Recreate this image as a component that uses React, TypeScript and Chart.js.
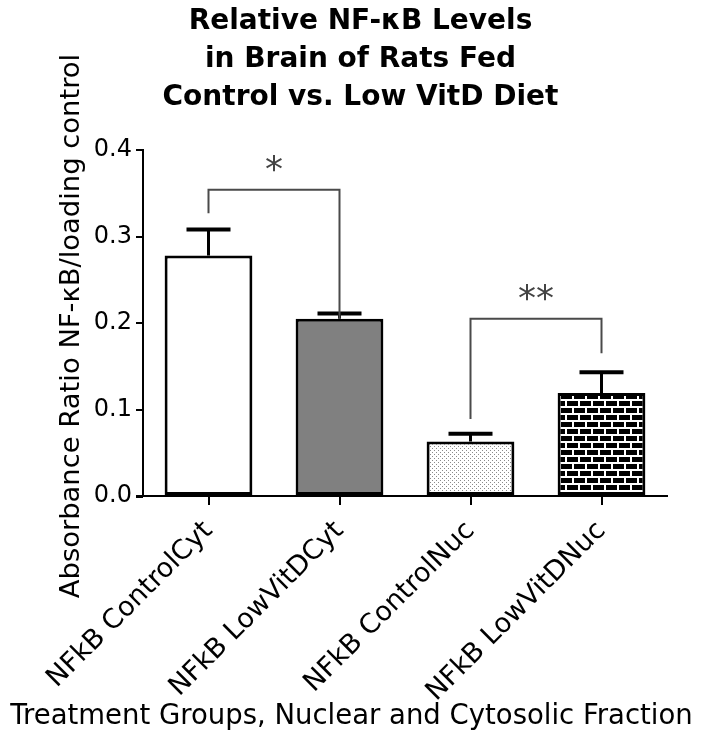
import React, { useEffect, useRef } from 'react';
import { Chart, registerables } from 'chart.js';

Chart.register(...registerables);

const titleLines = ['Relative NF-κB Levels', 'in Brain of Rats Fed', 'Control vs. Low VitD Diet'];
const yAxisTitle = 'Absorbance Ratio NF-κB/loading control';
const xAxisTitle = 'Treatment Groups, Nuclear and Cytosolic Fraction';
const categories = ['NFkB ControlCyt', 'NFkB LowVitDCyt', 'NFkB ControlNuc', 'NFkB LowVitDNuc'];
const means = [0.278, 0.205, 0.063, 0.119];
const sems = [0.030, 0.006, 0.009, 0.024];
const yMin = 0;
const yMax = 0.4;
const yStep = 0.1;
const bracketFrom = [0, 2];
const bracketTo = [1, 3];
const bracketLevels = [0.354, 0.205];
const bracketLeftEnds = [0.327, 0.089];
const bracketRightEnds = [0.205, 0.165];
const bracketLabels = ['*', '**'];

const FONT = '"DejaVu Sans", "Liberation Sans", Arial, sans-serif';

function makeDots(): CanvasPattern | string {
  const c = document.createElement('canvas');
  c.width = 4;
  c.height = 4;
  const g = c.getContext('2d');
  if (!g) return '#ddd';
  g.fillStyle = '#ffffff';
  g.fillRect(0, 0, 4, 4);
  g.fillStyle = '#8a8a8a';
  g.fillRect(0, 0, 1, 1);
  g.fillRect(2, 2, 1, 1);
  return g.createPattern(c, 'repeat') || '#ddd';
}

function makeBricks(): CanvasPattern | string {
  const c = document.createElement('canvas');
  c.width = 13;
  c.height = 14;
  const g = c.getContext('2d');
  if (!g) return '#333';
  g.fillStyle = '#000000';
  g.fillRect(0, 0, 13, 14);
  g.fillStyle = '#ffffff';
  g.fillRect(0, 0, 13, 2);
  g.fillRect(0, 7, 13, 2);
  g.fillRect(0, 2, 2, 5);
  g.fillRect(6, 9, 2, 5);
  return g.createPattern(c, 'repeat') || '#333';
}

const errorBarPlugin = {
  id: 'errorBars',
  afterDatasetsDraw(chart: any) {
    const ctx = chart.ctx;
    const y = chart.scales.y;
    const meta = chart.getDatasetMeta(0);
    ctx.save();
    ctx.strokeStyle = '#000';
    meta.data.forEach((bar: any, i: number) => {
      const top = y.getPixelForValue(means[i] + sems[i]);
      const base = y.getPixelForValue(means[i]);
      ctx.lineWidth = 3;
      ctx.beginPath();
      ctx.moveTo(bar.x, base);
      ctx.lineTo(bar.x, top);
      ctx.stroke();
      ctx.lineWidth = 4;
      ctx.beginPath();
      ctx.moveTo(bar.x - 22, top);
      ctx.lineTo(bar.x + 22, top);
      ctx.stroke();
    });
    ctx.restore();
  },
};

const bracketPlugin = {
  id: 'brackets',
  afterDraw(chart: any) {
    const ctx = chart.ctx;
    const y = chart.scales.y;
    const x = chart.scales.x;
    const area = chart.chartArea;
    ctx.save();
    ctx.strokeStyle = '#000';
    ctx.lineWidth = 2;
    ctx.beginPath();
    ctx.moveTo(area.left - 7, area.bottom + 1);
    ctx.lineTo(area.left, area.bottom + 1);
    ctx.stroke();
    ctx.strokeStyle = '#4a4a4a';
    ctx.fillStyle = '#444';
    ctx.lineWidth = 2;
    bracketFrom.forEach((f, i) => {
      const x1 = x.getPixelForValue(f);
      const x2 = x.getPixelForValue(bracketTo[i]);
      const yl = y.getPixelForValue(bracketLevels[i]);
      ctx.beginPath();
      ctx.moveTo(x1, y.getPixelForValue(bracketLeftEnds[i]));
      ctx.lineTo(x1, yl);
      ctx.lineTo(x2, yl);
      ctx.lineTo(x2, y.getPixelForValue(bracketRightEnds[i]));
      ctx.stroke();
      ctx.font = `36px ${FONT}`;
      ctx.textAlign = 'center';
      ctx.textBaseline = 'alphabetic';
      ctx.fillText(bracketLabels[i], (x1 + x2) / 2, yl - 9);
    });
    ctx.restore();
  },
};

const textPlugin = {
  id: 'texts',
  afterDraw(chart: any) {
    const ctx = chart.ctx;
    const area = chart.chartArea;
    ctx.save();
    ctx.fillStyle = '#000';
    ctx.textAlign = 'center';
    ctx.textBaseline = 'middle';
    ctx.font = `bold 28px ${FONT}`;
    titleLines.forEach((t, i) => {
      ctx.fillText(t, chart.width / 2 + 9, 22 + i * 38);
    });
    ctx.font = `27.5px ${FONT}`;
    ctx.fillText(xAxisTitle, chart.width / 2, 717);
    ctx.translate(72, (area.top + area.bottom) / 2 + 3);
    ctx.rotate(-Math.PI / 2);
    ctx.font = `27.4px ${FONT}`;
    ctx.fillText(yAxisTitle, 0, 0);
    ctx.restore();
  },
};

export default function App() {
  const ref = useRef<HTMLCanvasElement | null>(null);
  useEffect(() => {
    if (!ref.current) return;
    const chart = new Chart(ref.current, {
      type: 'bar',
      data: {
        labels: categories,
        datasets: [
          {
            data: means,
            backgroundColor: ['#ffffff', '#808080', makeDots(), makeBricks()],
            borderColor: '#000',
            borderWidth: 3,
            borderSkipped: false,
            barPercentage: 0.67,
            categoryPercentage: 1,
          },
        ],
      },
      options: {
        animation: false,
        responsive: true,
        maintainAspectRatio: false,
        layout: { padding: { top: 150, right: 36, bottom: 0, left: 0 } },
        plugins: { legend: { display: false }, tooltip: { enabled: false }, title: { display: false } },
        scales: {
          x: {
            type: 'category',
            offset: true,
            afterFit(scale: any) {
              scale.height = 238;
            },
            border: { color: '#000', width: 2 },
            grid: { offset: false, drawOnChartArea: false, drawTicks: true, tickLength: 9, color: '#000', lineWidth: 2 },
            ticks: {
              autoSkip: false,
              maxRotation: 45,
              minRotation: 45,
              color: '#000',
              padding: 10,
              font: { family: FONT, size: 27 },
            },
          },
          y: {
            min: yMin,
            max: yMax,
            afterFit(scale: any) {
              scale.width = 143;
            },
            border: { color: '#000', width: 2 },
            grid: { drawOnChartArea: false, drawTicks: true, tickLength: 7, color: '#000', lineWidth: 2 },
            ticks: {
              stepSize: yStep,
              color: '#000',
              padding: 4,
              font: { family: FONT, size: 24 },
              callback: (v: any) => Number(v).toFixed(1),
            },
          },
        },
      },
      plugins: [errorBarPlugin, bracketPlugin, textPlugin],
    });
    return () => chart.destroy();
  }, []);
  return (
    <div style={{ position: 'fixed', left: 0, top: 0, width: 703, height: 734, background: '#fff' }}>
      <canvas ref={ref} />
    </div>
  );
}
